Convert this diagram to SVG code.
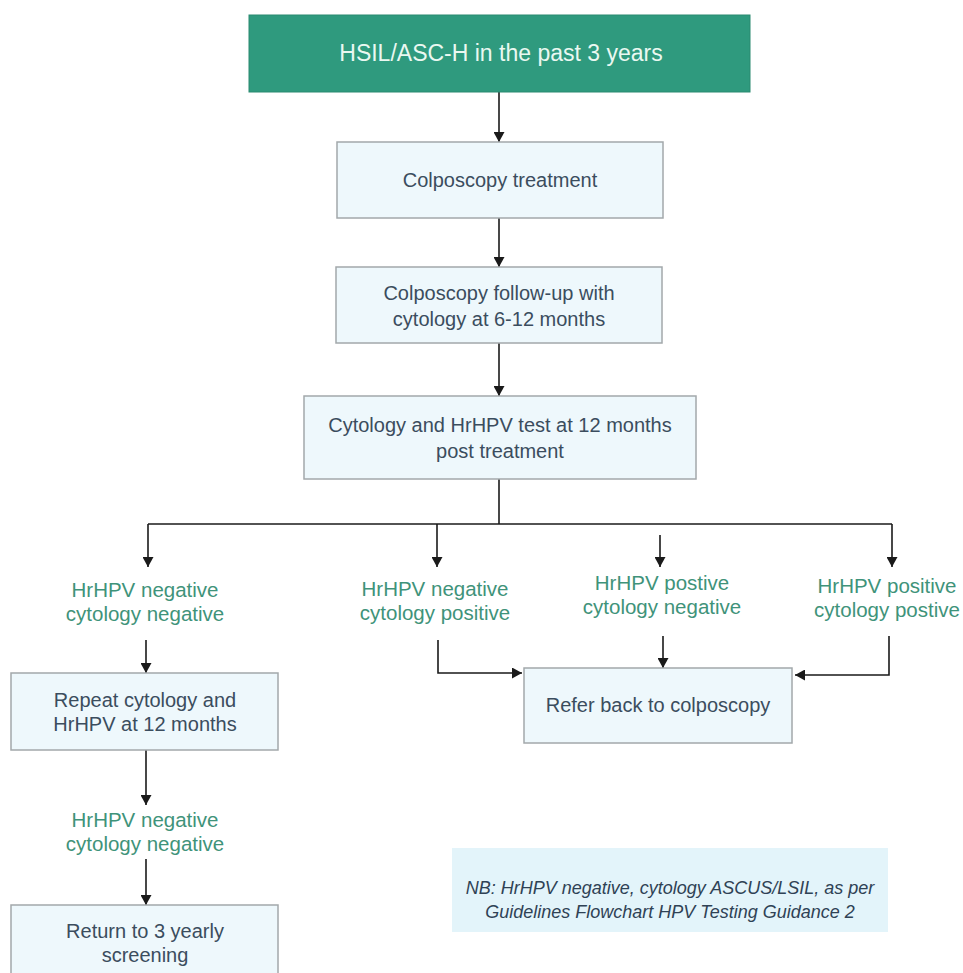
<svg xmlns="http://www.w3.org/2000/svg" width="963" height="973" viewBox="0 0 963 973">
<defs>
<marker id="ah" markerUnits="userSpaceOnUse" markerWidth="11" markerHeight="11" refX="10" refY="5.5" orient="auto">
<path d="M0,0 L10,5.5 L0,11 z" fill="#1a1a1a"/>
</marker>
</defs>
<style>
.box{fill:#eef8fc;stroke:#a3a8ab;stroke-width:1.5}
.t{font-family:"Liberation Sans",Arial,sans-serif;font-size:20px;fill:#3b4d5e;text-anchor:middle}
.g{font-family:"Liberation Sans",Arial,sans-serif;font-size:20.5px;fill:#3f937a;text-anchor:middle}
.n{font-family:"Liberation Sans",Arial,sans-serif;font-size:18px;font-style:italic;fill:#2f4255;text-anchor:middle}
.c{fill:none;stroke:#1a1a1a;stroke-width:1.6}
.a{fill:none;stroke:#1a1a1a;stroke-width:1.6;marker-end:url(#ah)}
</style>
<rect width="963" height="973" fill="#ffffff"/>
<g id="connectors">
<line class="a" x1="499" y1="92" x2="499" y2="142"/>
<line class="a" x1="499" y1="218" x2="499" y2="267"/>
<line class="a" x1="499" y1="343" x2="499" y2="396"/>
<line class="c" x1="499" y1="479" x2="499" y2="524"/>
<line class="c" x1="148" y1="524" x2="892" y2="524"/>
<line class="a" x1="148" y1="524" x2="148" y2="567"/>
<line class="a" x1="437" y1="524" x2="437" y2="567"/>
<line class="a" x1="892" y1="524" x2="892" y2="567"/>
<line class="a" x1="660" y1="535" x2="660" y2="567"/>
<line class="a" x1="146" y1="640" x2="146" y2="673"/>
<path class="a" d="M438,640 V673 H522"/>
<line class="a" x1="663" y1="636" x2="663" y2="668"/>
<path class="a" d="M889,636 V675 H795"/>
<line class="a" x1="146" y1="750" x2="146" y2="805"/>
<line class="a" x1="146" y1="859" x2="146" y2="905"/>
</g>
<g id="start">
<rect x="249" y="15" width="501" height="77" fill="#2f9a7e" stroke="#2a8a70" stroke-width="1"/>
<text x="501" y="61" font-family="Liberation Sans, Arial, sans-serif" font-size="23" fill="#eaf8f1" text-anchor="middle">HSIL/ASC-H in the past 3 years</text>
</g>
<g id="colposcopy">
<rect class="box" x="337" y="142" width="326" height="76"/>
<text class="t" x="500" y="187">Colposcopy treatment</text>
</g>
<g id="followup">
<rect class="box" x="336" y="267" width="326" height="76"/>
<text class="t" x="499" y="300">Colposcopy follow-up with</text>
<text class="t" x="499" y="326">cytology at 6-12 months</text>
</g>
<g id="cytology12">
<rect class="box" x="304" y="396" width="392" height="83"/>
<text class="t" x="500" y="432">Cytology and HrHPV test at 12 months</text>
<text class="t" x="500" y="458">post treatment</text>
</g>
<g id="negneg">
<text class="g" x="145" y="597">HrHPV negative</text>
<text class="g" x="145" y="621">cytology negative</text>
</g>
<g id="negpos">
<text class="g" x="435" y="596">HrHPV negative</text>
<text class="g" x="435" y="620">cytology positive</text>
</g>
<g id="posneg">
<text class="g" x="662" y="590">HrHPV postive</text>
<text class="g" x="662" y="614">cytology negative</text>
</g>
<g id="pospos">
<text class="g" x="887" y="593">HrHPV positive</text>
<text class="g" x="887" y="617">cytology postive</text>
</g>
<g id="repeat">
<rect class="box" x="11" y="673" width="267" height="77"/>
<text class="t" x="145" y="707">Repeat cytology and</text>
<text class="t" x="145" y="731">HrHPV at 12 months</text>
</g>
<g id="refer">
<rect class="box" x="524" y="668" width="268" height="75"/>
<text class="t" x="658" y="712">Refer back to colposcopy</text>
</g>
<g id="negneg2">
<text class="g" x="145" y="827">HrHPV negative</text>
<text class="g" x="145" y="851">cytology negative</text>
</g>
<g id="return">
<rect class="box" x="11" y="905" width="267" height="80"/>
<text class="t" x="145" y="938">Return to 3 yearly</text>
<text class="t" x="145" y="962">screening</text>
</g>
<g id="note">
<rect x="452" y="848" width="436" height="84" fill="#e3f4fa"/>
<text class="n" x="670" y="894">NB: HrHPV negative, cytology ASCUS/LSIL, as per</text>
<text class="n" x="670" y="918">Guidelines Flowchart HPV Testing Guidance 2</text>
</g>
</svg>
